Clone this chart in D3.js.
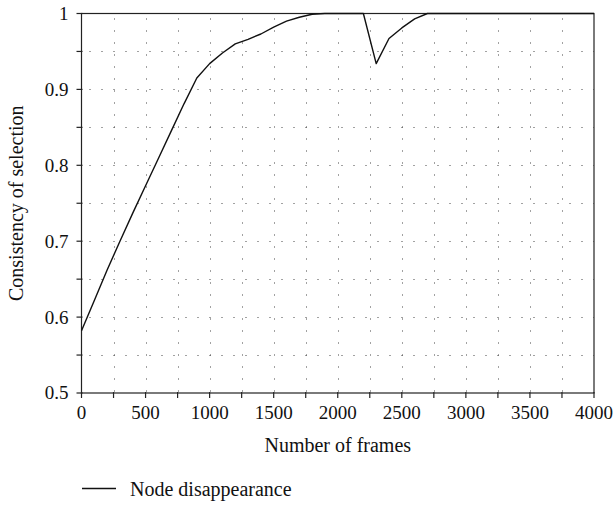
<!DOCTYPE html>
<html>
<head>
<meta charset="utf-8">
<script src="https://cdn.jsdelivr.net/npm/d3@7"></script>
<style>
  html, body { margin: 0; padding: 0; background: #fff; }
  svg { display: block; }
</style>
</head>
<body>
<svg id="chart" width="613" height="505"></svg>
<script>
// ---- data ----
const frames = [0,100,200,300,400,500,600,700,800,900,1000,1100,1200,1300,1400,1500,1600,1700,1800,1900,2000,2100,2200,2300,2400,2500,2600,2700,2800,2900,3000,3100,3200,3300,3400,3500,3600,3700,3800,3900,4000];
const consistency = [0.582,0.622,0.662,0.700,0.737,0.773,0.809,0.845,0.881,0.915,0.934,0.948,0.960,0.966,0.973,0.982,0.990,0.995,0.999,1.0,1.0,1.0,1.0,0.934,0.967,0.981,0.993,1.0,1.0,1.0,1.0,1.0,1.0,1.0,1.0,1.0,1.0,1.0,1.0,1.0,1.0];
const xTickLabels = [0,500,1000,1500,2000,2500,3000,3500,4000];
const yTickLabels = [0.5,0.6,0.7,0.8,0.9,1];
const xMinorTicks = d3.range(0, 4001, 250);
const yMinorTicks = d3.range(0, 11).map(i => +(0.5 + i * 0.05).toFixed(2));
const seriesName = "Node disappearance";
const xTitle = "Number of frames";
const yTitle = "Consistency of selection";

// ---- layout ----
const FONT = '"Liberation Serif"';
const svg = d3.select("#chart");
const pL = 81.5, pR = 594, pT = 13.5, pB = 393;
const x = d3.scaleLinear().domain([0, 4000]).range([pL, pR]);
const y = d3.scaleLinear().domain([0.5, 1]).range([pB, pT]);

function txt(sel) { return sel.style("font-family", FONT).attr("fill", "#111"); }

// grid (dotted)
const grid = svg.append("g");
grid.selectAll("line.v").data(xMinorTicks.filter(d => d > 0 && d < 4000)).enter().append("line")
  .attr("x1", d => Math.round(x(d)) + 0.5).attr("x2", d => Math.round(x(d)) + 0.5)
  .attr("y1", pT).attr("y2", pB)
  .attr("stroke", "#444").attr("stroke-width", 1).attr("stroke-dasharray", "1,11")
  .attr("stroke-dashoffset", -5);
grid.selectAll("line.h").data(yMinorTicks.filter(d => d > 0.5 && d < 1)).enter().append("line")
  .attr("y1", d => Math.round(y(d)) + 0.5).attr("y2", d => Math.round(y(d)) + 0.5)
  .attr("x1", pL).attr("x2", pR)
  .attr("stroke", "#444").attr("stroke-width", 1).attr("stroke-dasharray", "1,11")
  .attr("stroke-dashoffset", -8);

// frame
svg.append("rect").attr("x", pL).attr("y", pT).attr("width", pR - pL).attr("height", pB - pT)
  .attr("fill", "none").attr("stroke", "#222").attr("stroke-width", 1.2);

// ticks
svg.selectAll("line.xt").data(xMinorTicks).enter().append("line")
  .attr("x1", d => x(d)).attr("x2", d => x(d))
  .attr("y1", pB - 1).attr("y2", pB + 5)
  .attr("stroke", "#222").attr("stroke-width", 1.2);
svg.selectAll("line.yt").data(yMinorTicks).enter().append("line")
  .attr("y1", d => y(d)).attr("y2", d => y(d))
  .attr("x1", pL - 5).attr("x2", pL + 1)
  .attr("stroke", "#222").attr("stroke-width", 1.2);

// tick labels
txt(svg.selectAll("text.xl").data(xTickLabels).enter().append("text"))
  .attr("x", d => x(d)).attr("y", pB + 26)
  .attr("text-anchor", "middle").attr("font-size", 19)
  .text(d => d);
txt(svg.selectAll("text.yl").data(yTickLabels).enter().append("text"))
  .attr("x", 68.5).attr("y", d => y(d)).attr("dy", "0.34em")
  .attr("text-anchor", "end").attr("font-size", 19)
  .text(d => d);

// titles
txt(svg.append("text"))
  .attr("x", (pL + pR) / 2).attr("y", 452)
  .attr("text-anchor", "middle").attr("font-size", 20).text(xTitle);
txt(svg.append("text"))
  .attr("transform", `translate(23,${(pT + pB) / 2}) rotate(-90)`)
  .attr("text-anchor", "middle").attr("font-size", 20).text(yTitle);

// line
const line = d3.line().x((d, i) => x(frames[i])).y(d => y(d));
svg.append("path").datum(consistency).attr("d", line)
  .attr("fill", "none").attr("stroke", "#111").attr("stroke-width", 1.4)
  .attr("stroke-linejoin", "round");

// legend
svg.append("line").attr("x1", 82).attr("x2", 116).attr("y1", 488.5).attr("y2", 488.5)
  .attr("stroke", "#111").attr("stroke-width", 1.3);
txt(svg.append("text"))
  .attr("x", 130).attr("y", 496).attr("font-size", 20).text(seriesName);
</script>
</body>
</html>
